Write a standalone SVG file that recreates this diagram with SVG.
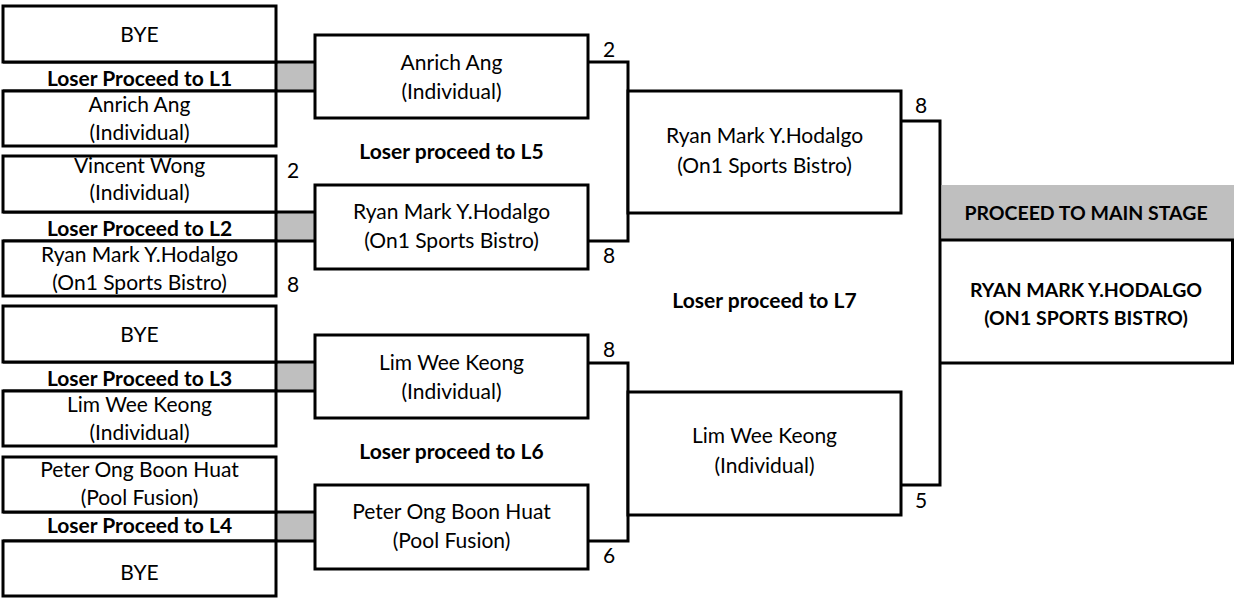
<svg xmlns="http://www.w3.org/2000/svg" width="1234" height="598" viewBox="0 0 1234 598">
<style>
.box{fill:#fff;stroke:#000;stroke-width:3}
.ln{fill:none;stroke:#000;stroke-width:3}
.gray{fill:#BFBFBF;stroke:none}
text{font-family:Lato,"Liberation Sans",sans-serif;font-size:21px;fill:#000;text-anchor:middle}
.b{font-weight:bold}
.fb{font-weight:bold;font-size:19.5px}
</style>
<rect width="1234" height="598" fill="#fff"/>
<g id="connectors">
<rect class="gray" x="277" y="63" width="38" height="27"/>
<rect class="gray" x="277" y="213" width="38" height="27"/>
<rect class="gray" x="277" y="363" width="38" height="27"/>
<rect class="gray" x="277" y="513" width="38" height="27"/>
<path class="ln" d="M3 62H317M3 91H317M276 62V91M3 212H317M3 241H317M276 212V241M3 362H317M3 391H317M276 362V391M3 512H317M3 541H317M276 512V541"/>
<path class="ln" d="M588 62H628V241H588M588 363H628V541H588M901 121H940V485H901"/>
</g>
<g id="r1-bye1"><rect class="box" x="3" y="6" width="273" height="56"/><text x="139.5" y="42">BYE</text></g>
<g id="label-l1"><text class="b" x="139.5" y="86">Loser Proceed to L1</text></g>
<g id="r1-anrich"><rect class="box" x="3" y="91" width="273" height="55"/><text x="139.5" y="112">Anrich Ang</text><text x="139.5" y="140">(Individual)</text></g>
<g id="r1-vincent"><rect class="box" x="3" y="156" width="273" height="56"/><text x="139.5" y="173">Vincent Wong</text><text x="139.5" y="200">(Individual)</text></g>
<g id="label-l2"><text class="b" x="139.5" y="236">Loser Proceed to L2</text></g>
<g id="r1-ryan"><rect class="box" x="3" y="241" width="273" height="55"/><text x="139.5" y="262">Ryan Mark Y.Hodalgo</text><text x="139.5" y="290">(On1 Sports Bistro)</text></g>
<g id="r1-bye3"><rect class="box" x="3" y="306" width="273" height="56"/><text x="139.5" y="342">BYE</text></g>
<g id="label-l3"><text class="b" x="139.5" y="386">Loser Proceed to L3</text></g>
<g id="r1-lim"><rect class="box" x="3" y="391" width="273" height="55"/><text x="139.5" y="412">Lim Wee Keong</text><text x="139.5" y="440">(Individual)</text></g>
<g id="r1-peter"><rect class="box" x="3" y="457" width="273" height="55"/><text x="139.5" y="477">Peter Ong Boon Huat</text><text x="139.5" y="505">(Pool Fusion)</text></g>
<g id="label-l4"><text class="b" x="139.5" y="533">Loser Proceed to L4</text></g>
<g id="r1-bye4"><rect class="box" x="3" y="541" width="273" height="55"/><text x="139.5" y="580">BYE</text></g>
<g id="scores-r1"><text x="293" y="178">2</text><text x="293" y="292">8</text></g>
<g id="r2-anrich"><rect class="box" x="315" y="35" width="273" height="83"/><text x="451.5" y="70">Anrich Ang</text><text x="451.5" y="99">(Individual)</text></g>
<g id="label-l5"><text class="b" x="451.5" y="159">Loser proceed to L5</text></g>
<g id="r2-ryan"><rect class="box" x="315" y="185" width="273" height="84"/><text x="451.5" y="219">Ryan Mark Y.Hodalgo</text><text x="451.5" y="248">(On1 Sports Bistro)</text></g>
<g id="r2-lim"><rect class="box" x="315" y="335" width="273" height="83"/><text x="451.5" y="370">Lim Wee Keong</text><text x="451.5" y="399">(Individual)</text></g>
<g id="label-l6"><text class="b" x="451.5" y="459">Loser proceed to L6</text></g>
<g id="r2-peter"><rect class="box" x="315" y="485" width="273" height="84"/><text x="451.5" y="519">Peter Ong Boon Huat</text><text x="451.5" y="548">(Pool Fusion)</text></g>
<g id="scores-r2"><text x="609" y="57">2</text><text x="609" y="263">8</text><text x="609" y="357">8</text><text x="609" y="563">6</text></g>
<g id="r3-ryan"><rect class="box" x="628" y="91" width="273" height="122"/><text x="764.5" y="143">Ryan Mark Y.Hodalgo</text><text x="764.5" y="173">(On1 Sports Bistro)</text></g>
<g id="label-l7"><text class="b" x="764.5" y="308">Loser proceed to L7</text></g>
<g id="r3-lim"><rect class="box" x="628" y="392" width="273" height="123"/><text x="764.5" y="443">Lim Wee Keong</text><text x="764.5" y="473">(Individual)</text></g>
<g id="scores-r3"><text x="921" y="113">8</text><text x="921" y="508">5</text></g>
<g id="final">
<rect class="gray" x="941.5" y="185" width="292.5" height="55"/>
<path class="ln" d="M940 240H1232.5V363H940"/>
<text class="fb" x="1086" y="220">PROCEED TO MAIN STAGE</text>
<text class="fb" x="1086" y="297">RYAN MARK Y.HODALGO</text>
<text class="fb" x="1086" y="325">(ON1 SPORTS BISTRO)</text>
</g>
</svg>
